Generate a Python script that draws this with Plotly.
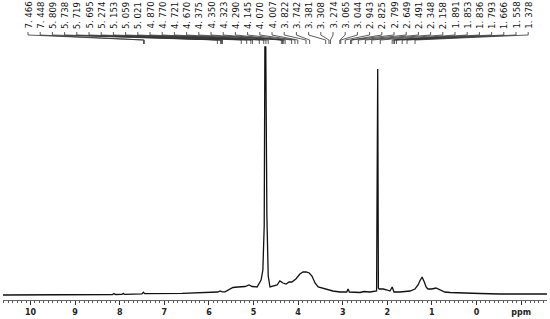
import plotly.graph_objects as go

# spectrum points (chemical shift in ppm, intensity)
ppm = [10.62, 9.5, 8.5, 8.16, 8.13, 8.10, 7.95, 7.92, 7.89, 7.50, 7.47, 7.44, 6.6, 6.2, 5.98,
       5.80, 5.75, 5.70, 5.64, 5.46, 5.35, 5.19, 5.10, 5.03, 4.92, 4.83, 4.79, 4.76, 4.745,
       4.725, 4.70, 4.67, 4.63, 4.54, 4.47, 4.41, 4.34, 4.27, 4.20, 4.14, 4.05, 3.96, 3.89,
       3.82, 3.75, 3.69, 3.62, 3.55, 3.46, 3.35, 3.22, 3.06, 2.99, 2.91, 2.88, 2.85, 2.61,
       2.52, 2.39, 2.24, 2.215, 2.20, 2.18, 2.09, 2.00, 1.94, 1.89, 1.85, 1.72, 1.49, 1.38,
       1.31, 1.27, 1.22, 1.17, 1.13, 1.09, 1.00, 0.91, 0.82, 0.71, 0.59, 0.37, -0.08, -0.53,
       -1.0, -1.58]
intensity = [1.0, 1.3, 1.5, 1.5, 2.5, 1.5, 1.6, 2.6, 1.6, 2.2, 3.8, 2.3, 2.6, 3.3, 3.5,
             4.0, 5.0, 4.2, 4.2, 8.5, 9.0, 9.5, 11.0, 9.5, 9.0, 16.0, 26.0, 70.0, 249.0,
             249.0, 80.0, 20.0, 9.0, 10.0, 11.0, 15.0, 13.0, 12.0, 14.0, 14.0, 17.0, 22.0, 24.0,
             24.0, 23.0, 20.0, 13.0, 9.0, 8.0, 7.0, 5.0, 4.0, 4.0, 4.0, 7.0, 4.0, 3.5,
             4.5, 4.0, 5.0, 227.0, 8.0, 7.0, 7.0, 6.0, 5.0, 9.0, 4.0, 4.0, 5.0, 7.0,
             11.0, 15.0, 19.0, 14.0, 9.0, 7.0, 7.0, 8.0, 6.0, 4.0, 3.5, 3.0, 2.5, 2.0,
             2.0, 2.0]

peak_labels = ["7.466", "7.448", "5.809", "5.738", "5.719", "5.695", "5.274", "5.153", "5.059",
               "5.021", "4.870", "4.770", "4.721", "4.670", "4.375", "4.350", "4.323", "4.290",
               "4.145", "4.070", "4.007", "3.822", "3.742", "3.381", "3.308", "3.274", "3.065",
               "3.044", "2.943", "2.825", "2.799", "2.649", "2.491", "2.348", "2.158", "1.891",
               "1.853", "1.836", "1.793", "1.666", "1.558", "1.378"]

tick_vals = [-1, 0, 1, 2, 3, 4, 5, 6, 7, 8, 9, 10]
tick_text = ["ppm", "0", "1", "2", "3", "4", "5", "6", "7", "8", "9", "10"]

X_LEFT, X_RIGHT = 10.617, -1.581
W, H = 550, 319
ML, MR, MT, MB = 3, 3, 0, 19
PLOT_H = H - MT - MB


def py(p):
    """pixel row -> paper y"""
    return (PLOT_H - (p - MT)) / PLOT_H


fig = go.Figure()
fig.add_trace(go.Scatter(x=ppm, y=intensity, mode="lines",
                         line=dict(color="#111111", width=1.3), hoverinfo="skip",
                         showlegend=False))

first_px, step_px = 28.0, 12.2
plot_w = W - ML - MR
shapes = []
annotations = []
for i, lab in enumerate(peak_labels):
    lx_px = first_px + i * step_px
    lx = X_LEFT + (X_RIGHT - X_LEFT) * (lx_px - ML) / plot_w
    pk = float(lab)
    annotations.append(dict(x=lx, y=py(31), xref="x", yref="paper", text=lab.replace(".", ". "),
                            textangle=-90, showarrow=False, xanchor="center", yanchor="bottom",
                            font=dict(family="Liberation Sans Narrow, DejaVu Sans Condensed, Arial",
                                      size=9.5, color="#111111")))
    shapes.append(dict(type="path", xref="x", yref="paper",
                       path=f"M {lx},{py(32)} L {lx},{py(35)} L {pk},{py(40)} L {pk},{py(44)}",
                       line=dict(color="#333333", width=0.8)))

fig.update_layout(
    width=W, height=H,
    margin=dict(l=ML, r=MR, t=MT, b=MB, autoexpand=False),
    paper_bgcolor="white", plot_bgcolor="white",
    shapes=shapes, annotations=annotations,
    xaxis=dict(range=[X_LEFT, X_RIGHT], tickvals=tick_vals, ticktext=tick_text,
               automargin=False,
               showgrid=False, zeroline=False, showline=True, linecolor="#666666", linewidth=1,
               ticks="outside", ticklen=4, tickwidth=1, tickcolor="#333333",
               minor=dict(dtick=0.1, ticks="outside", ticklen=2, tickcolor="#555555", tickwidth=1),
               tickfont=dict(family="DejaVu Sans", size=8, color="#222222", weight="bold"),
               ticklabelstandoff=0),
    yaxis=dict(range=[-4, 296], visible=False, automargin=False),
)
fig.write_html("out.html", config={"displayModeBar": False},
               post_script="document.body.style.margin='0';document.body.style.overflow='hidden';")
